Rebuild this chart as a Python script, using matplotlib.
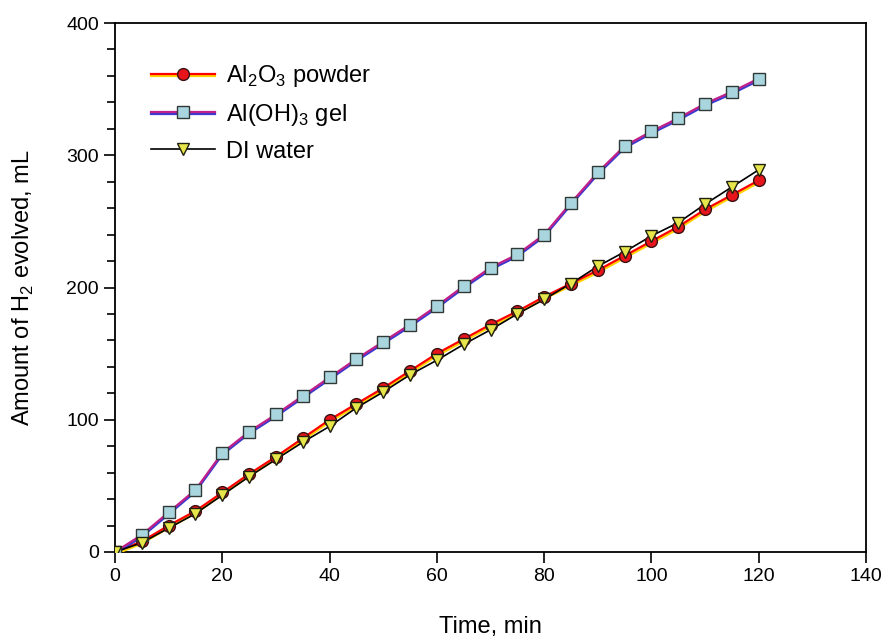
import numpy as np
import matplotlib
matplotlib.use('Agg')
import matplotlib.pyplot as plt
import matplotlib.patheffects as pe

plt.rcParams['font.family'] = ['Liberation Sans', 'DejaVu Sans']
plt.rcParams['mathtext.fontset'] = 'custom'
plt.rcParams['mathtext.rm'] = 'Liberation Sans'

# Data
time = np.arange(0, 121, 5)

al2o3 = np.array([0, 8, 20, 31, 45, 59, 72, 86, 100, 112, 124, 137, 150,
                  161, 172, 182, 193, 203, 213, 224, 235, 246, 259, 270, 281])

aloh3 = np.array([0, 13, 30, 47, 75, 91, 104, 118, 132, 146, 159, 172, 186,
                  201, 215, 225, 240, 264, 287, 307, 318, 328, 339, 348, 358])

water = np.array([0, 7, 18, 29, 43, 57, 70, 83, 95, 109, 121, 134, 145,
                  157, 168, 180, 191, 203, 216, 227, 239, 249, 263, 276, 289])

fig = plt.figure(figsize=(8.85, 6.37), dpi=100)
ax = fig.add_axes([115/885, 1 - 552/637, 751/885, 529/637])

# two-tone lines as in the original (colour + offset shadow colour),
# markers drawn separately so they get no shadow
l1, = ax.plot(time, al2o3, color='red', lw=1.6, zorder=3,
              path_effects=[pe.SimpleLineShadow(offset=(0, -1.6), shadow_color='#ffd200', alpha=1),
                            pe.Normal()])
m1, = ax.plot(time, al2o3, ls='none', marker='o', ms=8.5,
              mfc='#e8141c', mec='#3a1010', mew=1.0, zorder=5)
l2, = ax.plot(time, aloh3, color='#c0208a', lw=1.6, zorder=3,
              path_effects=[pe.SimpleLineShadow(offset=(0, -1.4), shadow_color='#3a3ad0', alpha=1),
                            pe.Normal()])
m2, = ax.plot(time, aloh3, ls='none', marker='s', ms=8,
              mfc='#a9d6de', mec='#303838', mew=1.0, zorder=5)
l3, = ax.plot(time, water, color='black', lw=1.2, zorder=4)
m3, = ax.plot(time, water, ls='none', marker='v', ms=9,
              mfc='#e6e64a', mec='#202010', mew=1.0, zorder=6)

ax.set_xlim(0, 140)
ax.set_ylim(0, 400)
ax.set_xticks(np.arange(0, 141, 20))
ax.set_yticks(np.arange(0, 401, 100))
ax.set_yticks(np.arange(0, 401, 20), minor=True)
ax.tick_params(direction='out', length=8, width=1.2, labelsize=14)
ax.tick_params(which='minor', direction='out', length=6, width=1.2)
for s in ax.spines.values():
    s.set_linewidth(1.3)

ax.set_xlabel('Time, min', fontsize=17, labelpad=22)
ax.set_ylabel('Amount of H$_2$ evolved, mL', fontsize=17, labelpad=22)

ax.legend([(l1, m1), (l2, m2), (l3, m3)],
          ['Al$_2$O$_3$ powder', 'Al(OH)$_3$ gel', 'DI water'],
          loc='upper left', bbox_to_anchor=(0.02, 0.965), frameon=False,
          fontsize=17, handlelength=2.7, labelspacing=0.55, handletextpad=0.45)

fig.savefig('out.png', dpi=100)
